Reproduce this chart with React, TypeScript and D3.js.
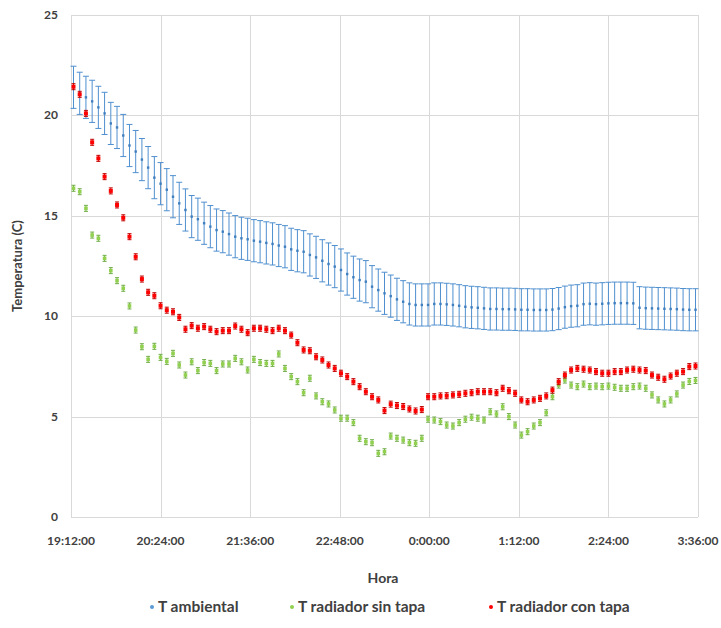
import React, { useEffect, useRef } from "react";
import * as d3 from "d3";

// readings every 5 minutes, first one 2 minutes after 19:12
const firstMinute = 2;
const stepMinutes = 5;

const tAmbiental = [
  21.4, 21.1, 20.9, 20.7, 20.4, 20.1, 19.6, 19.4, 19.0, 18.5, 18.2, 17.8, 17.4, 16.9, 16.6, 16.3,
  15.95, 15.62, 15.29, 14.96, 14.83, 14.63, 14.46, 14.29, 14.21, 14.09, 13.96, 13.88, 13.83, 13.76, 13.71, 13.65, 13.6,
  13.52, 13.46, 13.33, 13.26, 13.21, 13.05, 12.93, 12.76, 12.6, 12.47, 12.3, 12.1, 11.94, 11.8, 11.72, 11.47, 11.3,
  11.14, 11.0, 10.84, 10.72, 10.61, 10.56, 10.56, 10.56, 10.61, 10.61, 10.59, 10.56, 10.52, 10.47, 10.44, 10.42, 10.39,
  10.36, 10.36, 10.35, 10.35, 10.34, 10.32, 10.32, 10.31, 10.31, 10.31, 10.33, 10.38, 10.45, 10.5, 10.52, 10.6, 10.62,
  10.6, 10.62, 10.64, 10.65, 10.65, 10.65, 10.64, 10.42, 10.4, 10.39, 10.38, 10.37, 10.36, 10.35, 10.33, 10.32, 10.32,
];

const tSinTapa = [
  16.37, 16.2, 15.37, 14.04, 13.88, 12.88, 12.27, 11.77, 11.39, 10.51, 9.31, 8.48, 7.85, 8.5, 7.95, 7.75,
  8.15, 7.57, 7.07, 7.73, 7.29, 7.69, 7.65, 7.29, 7.62, 7.62, 7.9, 7.73, 7.32, 7.85, 7.69, 7.65, 7.65,
  8.12, 7.4, 6.99, 6.74, 6.19, 6.91, 6.03, 5.74, 5.63, 5.33, 4.92, 4.92, 4.7, 3.92, 3.75, 3.7, 3.17,
  3.25, 4.03, 3.92, 3.83, 3.7, 3.67, 3.92, 4.87, 4.83, 4.75, 4.58, 4.53, 4.7, 4.87, 4.97, 4.92, 4.83,
  5.24, 5.13, 5.49, 5.0, 4.58, 4.08, 4.25, 4.53, 4.7, 5.19, 5.99, 6.57, 6.82, 6.57, 6.49, 6.62, 6.49,
  6.52, 6.49, 6.52, 6.46, 6.41, 6.41, 6.49, 6.52, 6.41, 6.08, 5.83, 5.63, 5.83, 6.13, 6.57, 6.75, 6.8,
];

const tConTapa = [
  21.43, 21.05, 20.1, 18.66, 17.86, 16.95, 16.24, 15.54, 14.9, 13.96, 12.96, 11.85, 11.19, 11.02, 10.52, 10.3,
  10.22, 9.94, 9.35, 9.53, 9.4, 9.48, 9.35, 9.23, 9.28, 9.28, 9.51, 9.35, 9.18, 9.4, 9.4, 9.35, 9.28,
  9.4, 9.28, 9.06, 8.68, 8.32, 8.28, 7.98, 7.82, 7.57, 7.4, 7.16, 6.99, 6.74, 6.49, 6.24, 5.99, 5.83,
  5.3, 5.62, 5.55, 5.5, 5.38, 5.28, 5.35, 5.99, 5.99, 6.03, 6.04, 6.08, 6.11, 6.16, 6.19, 6.24, 6.24,
  6.24, 6.19, 6.41, 6.29, 6.16, 5.83, 5.74, 5.83, 5.91, 6.03, 6.32, 6.74, 7.07, 7.32, 7.4, 7.36, 7.32,
  7.24, 7.16, 7.16, 7.24, 7.24, 7.32, 7.36, 7.32, 7.29, 7.07, 6.96, 6.86, 7.02, 7.16, 7.24, 7.49, 7.52,
];

const errAmbiental = 1.05;
const errRadiador = 0.15;

const xTickLabels = ["19:12:00", "20:24:00", "21:36:00", "22:48:00", "0:00:00", "1:12:00", "2:24:00", "3:36:00"];
const xTickStep = 72; // minutes
const yTicks = [0, 5, 10, 15, 20, 25];
const seriesNames = ["T ambiental", "T radiador sin tapa", "T radiador con tapa"];

function Chart() {
  const svgRef = useRef<SVGSVGElement | null>(null);

  useEffect(() => {
    const svg = d3.select(svgRef.current);
    svg.selectAll("*").remove();
    const font = "Lato, 'Open Sans', sans-serif";

    const xScale = d3.scaleLinear().domain([0, xTickStep * (xTickLabels.length - 1)]).range([71, 698]);
    const yScale = d3.scaleLinear().domain([0, 25]).range([517, 15]);
    const minuteOf = (i: number) => firstMinute + i * stepMinutes;

    // grid
    const grid = svg.append("g").attr("stroke", "#d9d9d9").attr("stroke-width", 1);
    yTicks.forEach((t) => {
      grid.append("line").attr("x1", xScale.range()[0]).attr("x2", xScale.range()[1])
        .attr("y1", Math.round(yScale(t)) + 0.5).attr("y2", Math.round(yScale(t)) + 0.5);
    });
    xTickLabels.forEach((_, k) => {
      const x = Math.round(xScale(k * xTickStep)) + 0.5;
      grid.append("line").attr("x1", x).attr("x2", x).attr("y1", yScale(25)).attr("y2", yScale(0));
    });

    // y tick labels
    svg.append("g").selectAll("text").data(yTicks).join("text")
      .attr("x", 58).attr("y", (d) => yScale(d) + 4)
      .attr("text-anchor", "end").attr("font-family", font).attr("font-weight", "bold")
      .attr("font-size", 12).attr("fill", "#404040").text((d) => d);

    // x tick labels
    svg.append("g").selectAll("text").data(xTickLabels).join("text")
      .attr("x", (_, k) => xScale(k * xTickStep)).attr("y", 545)
      .attr("text-anchor", "middle").attr("font-family", font).attr("font-weight", "bold")
      .attr("font-size", 12).attr("fill", "#404040").text((d) => d);

    // axis titles
    svg.append("text").attr("x", 383).attr("y", 583).attr("text-anchor", "middle")
      .attr("font-family", font).attr("font-weight", "bold").attr("font-size", 14)
      .attr("fill", "#404040").text("Hora");
    svg.append("text").attr("transform", "translate(22,266) rotate(-90)").attr("text-anchor", "middle")
      .attr("font-family", font).attr("font-weight", "bold").attr("font-size", 13)
      .attr("fill", "#404040").text("Temperatura (C)");

    const series = [
      { values: tAmbiental, err: errAmbiental, bar: "#4f8fcf", dot: "#3f7fbf", cap: 3, r: 1.2 },
      { values: tSinTapa, err: errRadiador, bar: "#70ad47", dot: "#92d050", cap: 2, r: 1.8 },
      { values: tConTapa, err: errRadiador, bar: "#c00000", dot: "#ff0000", cap: 2, r: 2 },
    ];

    series.forEach((s) => {
      const g = svg.append("g");
      s.values.forEach((v, i) => {
        const x = xScale(minuteOf(i));
        const y1 = yScale(v + s.err);
        const y2 = yScale(v - s.err);
        g.append("line").attr("x1", x).attr("x2", x).attr("y1", y1).attr("y2", y2)
          .attr("stroke", s.bar).attr("stroke-width", 1);
        g.append("line").attr("x1", x - s.cap).attr("x2", x + s.cap).attr("y1", y1).attr("y2", y1)
          .attr("stroke", s.bar).attr("stroke-width", 1);
        g.append("line").attr("x1", x - s.cap).attr("x2", x + s.cap).attr("y1", y2).attr("y2", y2)
          .attr("stroke", s.bar).attr("stroke-width", 1);
      });
      g.selectAll("rect").data(s.values).join("rect")
        .attr("x", (_, i) => xScale(minuteOf(i)) - s.r).attr("y", (d) => yScale(d) - s.r)
        .attr("width", s.r * 2).attr("height", s.r * 2).attr("fill", s.dot);
    });

    // legend
    const legendX = [152, 292, 491];
    const legendColors = ["#5b9bd5", "#92d050", "#ff0000"];
    seriesNames.forEach((name, k) => {
      svg.append("circle").attr("cx", legendX[k]).attr("cy", 607).attr("r", 2).attr("fill", legendColors[k]);
      svg.append("text").attr("x", legendX[k] + 6).attr("y", 612).attr("font-family", font)
        .attr("font-size", 15.5).attr("font-weight", "bold").attr("fill", "#404040").text(name);
    });
  }, []);

  return (
    <svg ref={svgRef} width={721} height={628} style={{ position: "absolute", left: 0, top: 0, background: "#fff" }} />
  );
}

export default function App() {
  return <Chart />;
}
